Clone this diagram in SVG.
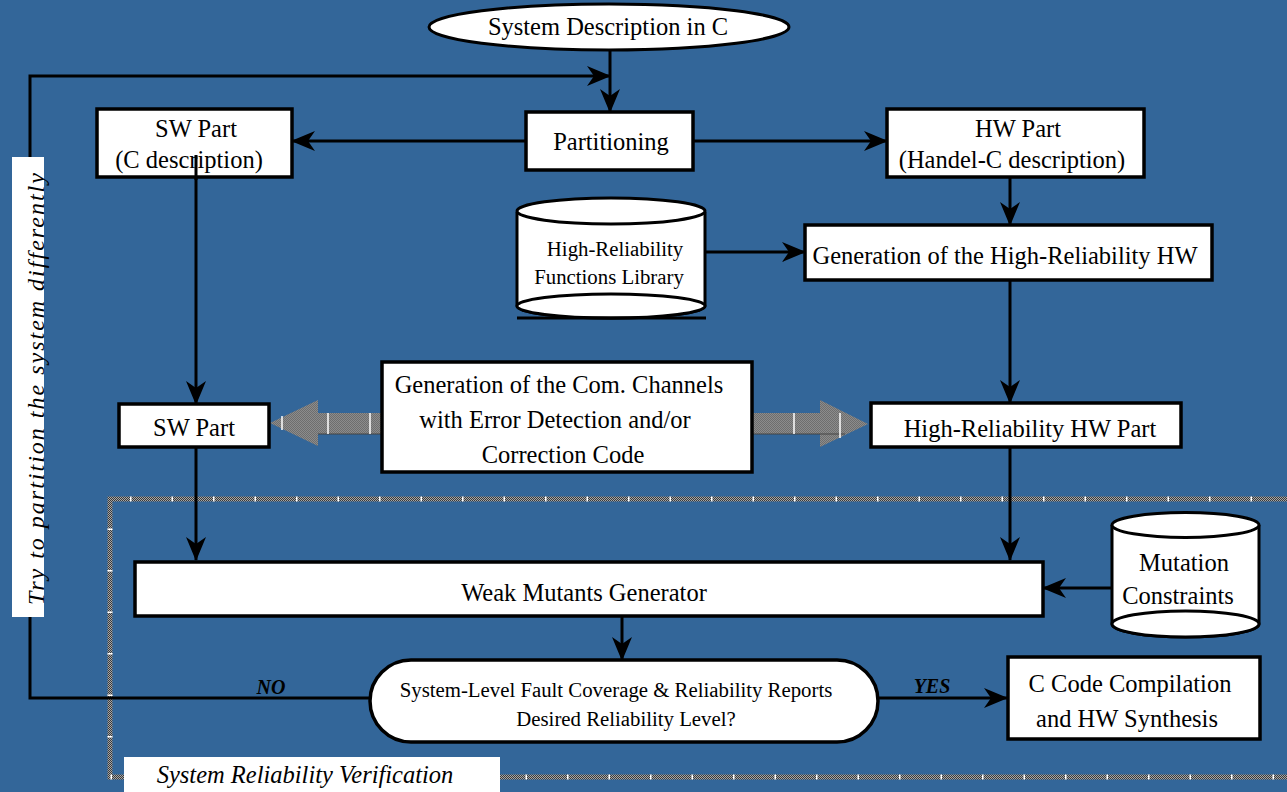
<svg xmlns="http://www.w3.org/2000/svg" width="1287" height="792" viewBox="0 0 1287 792">
<style>
.box{fill:#fff;stroke:#000;stroke-width:3.5}
.t{font-family:"Liberation Serif","Times New Roman",serif;fill:#000;text-anchor:middle;font-size:24.5px}
.s{font-size:20.8px}
.ln{stroke:#000;stroke-width:3;fill:none}
.lnA{stroke:#000;stroke-width:3;fill:none;marker-end:url(#ah)}
.tick{stroke:#fff;stroke-width:1.5}
</style>
<defs>
<marker id="ah" viewBox="0 0 24 20" refX="23" refY="10" markerWidth="24" markerHeight="20" markerUnits="userSpaceOnUse" orient="auto">
<path d="M0,0 L24,10 L0,20 L7,10 Z" fill="#000"/>
</marker>
<pattern id="chk" width="2" height="2" patternUnits="userSpaceOnUse">
<rect width="2" height="2" fill="#8c8c8c"/>
<rect width="1" height="1" fill="#6e6e6e"/>
<rect x="1" y="1" width="1" height="1" fill="#6e6e6e"/>
</pattern>
<pattern id="brd" width="2" height="2" patternUnits="userSpaceOnUse">
<rect width="2" height="2" fill="#a8a8a8"/>
<rect width="1" height="1" fill="#3a3a3a"/>
<rect x="1" y="1" width="1" height="1" fill="#3a3a3a"/>
</pattern>
</defs>
<rect width="1287" height="792" fill="#336699"/>

<g id="verification-frame">
<rect x="110" y="499" width="1200" height="278" fill="none" stroke="url(#brd)" stroke-width="5"/>
<rect x="110" y="499" width="1200" height="278" fill="none" stroke="#fff" stroke-width="5" stroke-dasharray="1.5 40" stroke-dashoffset="-20"/>
</g>

<g id="connectors">
<line class="lnA" x1="610" y1="50" x2="610" y2="112"/>
<polyline class="lnA" points="370,698 30,698 30,76 610,76"/>
<line class="lnA" x1="526" y1="141" x2="292" y2="141"/>
<line class="lnA" x1="693" y1="141" x2="887" y2="141"/>
<line class="lnA" x1="1010" y1="177" x2="1010" y2="225"/>
<line class="lnA" x1="705" y1="252" x2="805" y2="252"/>
<line class="lnA" x1="1010" y1="280" x2="1010" y2="403"/>
<line class="lnA" x1="196" y1="155" x2="196" y2="404"/>
<line class="lnA" x1="196" y1="447" x2="196" y2="560"/>
<line class="lnA" x1="1010" y1="447" x2="1010" y2="560"/>
<line class="lnA" x1="1112" y1="588" x2="1043" y2="588"/>
<line class="lnA" x1="622" y1="616" x2="622" y2="660"/>
<line class="lnA" x1="878" y1="698" x2="1007" y2="698"/>
<polygon points="382,413 318,413 318,400 270,423 318,446 318,434 382,434" fill="url(#chk)"/>
<line x1="318" y1="434" x2="382" y2="434" stroke="#444" stroke-width="1"/>
<line class="tick" x1="282" y1="416" x2="282" y2="430"/>
<line class="tick" x1="328" y1="413" x2="328" y2="434"/>
<line class="tick" x1="370" y1="413" x2="370" y2="434"/>
<polygon points="752,413 820,413 820,400 868,424 820,447 820,434 752,434" fill="url(#chk)"/>
<line x1="752" y1="434" x2="845" y2="434" stroke="#444" stroke-width="1"/>
<line class="tick" x1="794" y1="413" x2="794" y2="434"/>
<line class="tick" x1="840" y1="413" x2="840" y2="438"/>
<text class="t" x="271" y="694" style="font-size:20px" font-weight="bold" font-style="italic">NO</text>
<text class="t" x="932" y="693" style="font-size:20px" font-weight="bold" font-style="italic">YES</text>
</g>

<g id="retry-label">
<rect x="12" y="157" width="32" height="460" fill="#fff"/>
<text class="t" transform="translate(44,388) rotate(-90)" style="font-size:24px;letter-spacing:2px" font-style="italic">Try to partition the system differently</text>
</g>

<g id="system-description">
<ellipse cx="609" cy="27" rx="180" ry="23" fill="#fff" stroke="#000" stroke-width="3"/>
<text class="t" x="608" y="35">System Description in C</text>
</g>

<g id="partitioning">
<rect class="box" x="526" y="112" width="167" height="58"/>
<text class="t" x="611" y="150">Partitioning</text>
</g>

<g id="sw-part-c">
<rect class="box" x="97" y="109" width="195" height="68"/>
<text class="t" x="196" y="137">SW Part</text>
<text class="t" x="189" y="168">(C description)</text>
</g>
<line class="ln" x1="196" y1="155" x2="196" y2="180"/>

<g id="hw-part-handelc">
<rect class="box" x="887" y="109" width="257" height="68"/>
<text class="t" x="1018" y="137">HW Part</text>
<text class="t" x="1012" y="168">(Handel-C description)</text>
</g>

<g id="hr-library">
<path d="M517,212 L517,306 A94,12 0 0 0 705,306 L705,212" fill="#fff" stroke="#000" stroke-width="3"/>
<ellipse cx="611" cy="306" rx="94" ry="12" fill="#fff" stroke="#000" stroke-width="3"/>
<ellipse cx="611" cy="211" rx="94" ry="13" fill="#fff" stroke="#000" stroke-width="3"/>
<line x1="517" y1="318" x2="706" y2="318" stroke="#000" stroke-width="3"/>
<text class="t s" x="615" y="256">High-Reliability</text>
<text class="t s" x="609" y="284">Functions Library</text>
</g>

<g id="gen-hr-hw">
<rect class="box" x="805" y="225" width="407" height="55"/>
<text class="t" x="1005" y="264">Generation of the High-Reliability HW</text>
</g>

<g id="com-channels">
<rect class="box" x="382" y="362" width="370" height="110"/>
<text class="t" x="559" y="393">Generation of the Com. Channels</text>
<text class="t" x="555" y="428">with Error Detection and/or</text>
<text class="t" x="563" y="463">Correction Code</text>
</g>

<g id="sw-part">
<rect class="box" x="119" y="404" width="150" height="43"/>
<text class="t" x="194" y="436">SW Part</text>
</g>

<g id="hr-hw-part">
<rect class="box" x="871" y="403" width="310" height="44"/>
<text class="t" x="1030" y="437">High-Reliability HW Part</text>
</g>

<g id="weak-mutants">
<rect class="box" x="135" y="562" width="908" height="54"/>
<text class="t" x="584" y="601">Weak Mutants Generator</text>
</g>

<g id="mutation-constraints">
<path d="M1112,525 L1112,624 A73.5,13 0 0 0 1259,624 L1259,525" fill="#fff" stroke="#000" stroke-width="3"/>
<ellipse cx="1185.5" cy="624" rx="73.5" ry="13" fill="#fff" stroke="#000" stroke-width="3"/>
<ellipse cx="1185.5" cy="525" rx="73.5" ry="12.5" fill="#fff" stroke="#000" stroke-width="3"/>
<text class="t" x="1184" y="571">Mutation</text>
<text class="t" x="1178" y="604">Constraints</text>
</g>

<g id="decision">
<rect class="box" x="370" y="660" width="508" height="82" rx="41" ry="41"/>
<text class="t s" x="616" y="697">System-Level Fault Coverage &amp; Reliability Reports</text>
<text class="t s" x="626" y="726">Desired Reliability Level?</text>
</g>

<g id="c-code">
<rect class="box" x="1008" y="657" width="252" height="82"/>
<text class="t" x="1130" y="692">C Code Compilation</text>
<text class="t" x="1127" y="727">and HW Synthesis</text>
</g>

<g id="verification-label">
<rect x="124" y="757" width="376" height="35" fill="#fff"/>
<text class="t" x="305" y="783" font-style="italic">System Reliability Verification</text>
</g>
</svg>
